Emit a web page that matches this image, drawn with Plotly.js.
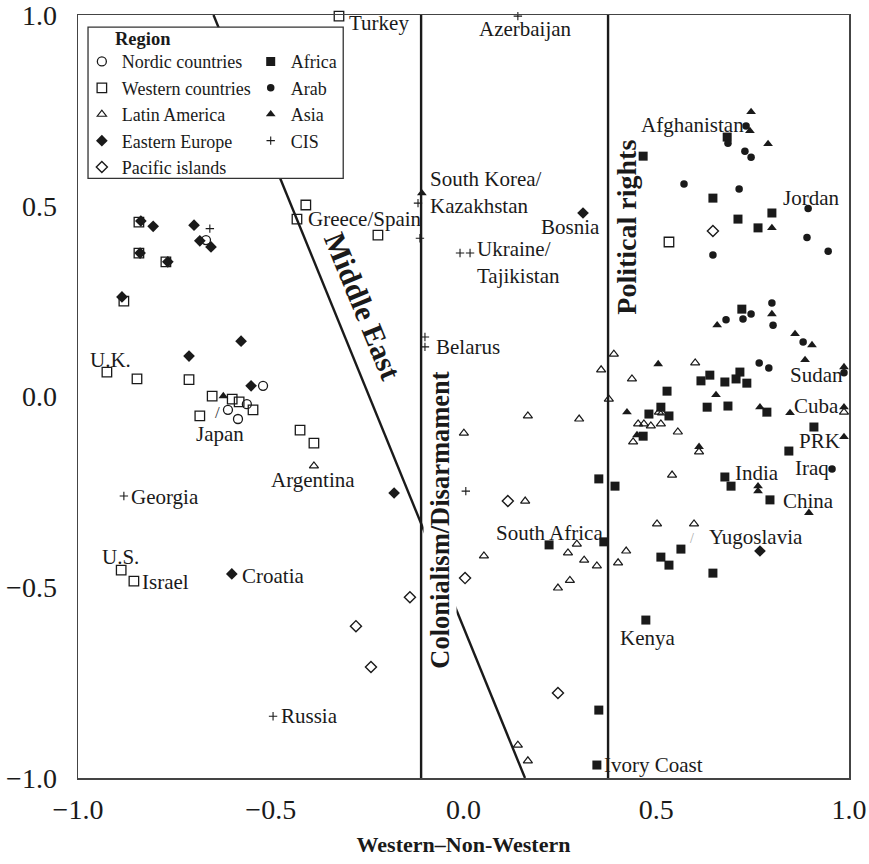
<!DOCTYPE html>
<html>
<head>
<meta charset="utf-8">
<script src="https://cdn.plot.ly/plotly-3.0.1.min.js"></script>
<style>html,body{margin:0;padding:0;background:#fff;}</style>
</head>
<body>
<div id="chart" style="width:869px;height:864px;"></div>
<script>
// ---- Data ----
const nordicX = [-0.668, -0.520, -0.562, -0.611, -0.585];
const nordicY = [0.410, 0.028, -0.020, -0.035, -0.059];

const westernX = [-0.323, -0.842, -0.842, -0.772, -0.881, -0.925, -0.847, -0.712, -0.652, -0.600, -0.582, -0.546, -0.684, -0.424, -0.388, -0.409, -0.432, -0.222, -0.888, -0.855, 0.533];
const westernY = [0.997, 0.457, 0.376, 0.353, 0.250, 0.064, 0.046, 0.044, 0.001, -0.007, -0.014, -0.035, -0.051, -0.088, -0.122, 0.502, 0.465, 0.423, -0.455, -0.484, 0.405];

const latinX = [-0.388, 0.390, 0.357, 0.437, 0.377, 0.167, 0.300, 0.001, 0.601, 0.507, 0.515, 0.453, 0.468, 0.486, 0.512, 0.556, 0.440, 0.611, 0.541, 0.987, 0.502, 0.598, 0.422, 0.401, 0.346, 0.160, 0.053, 0.294, 0.271, 0.313, 0.276, 0.245, 0.141, 0.167];
const latinY = [-0.182, 0.111, 0.070, 0.046, -0.007, -0.051, -0.059, -0.096, 0.088, -0.041, -0.043, -0.072, -0.072, -0.077, -0.072, -0.093, -0.119, -0.145, -0.206, -0.041, -0.334, -0.334, -0.405, -0.436, -0.444, -0.274, -0.418, -0.387, -0.410, -0.429, -0.482, -0.502, -0.914, -0.955];

const easternX = [-0.837, -0.805, -0.699, -0.684, -0.655, -0.839, -0.767, -0.886, -0.577, -0.712, -0.551, -0.180, -0.601, 0.310, 0.769];
const easternY = [0.460, 0.446, 0.449, 0.408, 0.392, 0.376, 0.353, 0.261, 0.145, 0.106, 0.028, -0.253, -0.465, 0.481, -0.405];

const pacificX = [-0.139, -0.279, -0.240, 0.004, 0.115, 0.245, 0.647];
const pacificY = [-0.526, -0.602, -0.709, -0.476, -0.274, -0.777, 0.434];

const africaX = [0.684, 0.466, 0.647, 0.800, 0.712, 0.764, 0.722, 0.481, 0.528, 0.616, 0.639, 0.678, 0.707, 0.717, 0.735, 0.632, 0.686, 0.787, 0.512, 0.533, 0.466, 0.909, 0.844, 0.678, 0.694, 0.795, 0.351, 0.393, 0.364, 0.564, 0.512, 0.533, 0.647, 0.222, 0.473, 0.351, 0.346];
const africaY = [0.680, 0.630, 0.520, 0.481, 0.465, 0.442, 0.229, -0.046, 0.014, 0.041, 0.056, 0.038, 0.046, 0.064, 0.035, -0.028, -0.025, -0.041, -0.028, -0.051, -0.104, -0.080, -0.143, -0.211, -0.235, -0.271, -0.216, -0.235, -0.381, -0.400, -0.421, -0.442, -0.463, -0.389, -0.586, -0.822, -0.966];

const arabX = [0.733, 0.686, 0.730, 0.746, 0.572, 0.715, 0.894, 0.891, 0.647, 0.946, 0.800, 0.746, 0.725, 0.681, 0.803, 0.881, 0.767, 0.792, 0.987, 0.956];
const arabY = [0.709, 0.664, 0.643, 0.627, 0.557, 0.544, 0.493, 0.417, 0.371, 0.381, 0.245, 0.216, 0.203, 0.201, 0.187, 0.143, 0.088, 0.075, 0.062, -0.190];

const asiaX = [0.746, 0.743, 0.790, 0.800, 0.658, 0.800, 0.860, 0.904, 0.886, 0.987, 0.505, 0.424, 0.655, 0.769, 0.847, 0.987, 0.450, 0.987, 0.611, 0.764, 0.764, 0.896, -0.623, -0.108];
const asiaY = [0.746, 0.696, 0.662, 0.442, 0.187, 0.216, 0.164, 0.135, 0.096, 0.077, 0.085, -0.041, 0.004, -0.028, -0.043, -0.028, -0.101, -0.106, -0.132, -0.235, -0.248, -0.305, 0.001, 0.533];

const cisX = [0.141, -0.658, -0.118, -0.113, -0.009, 0.017, -0.100, -0.100, -0.881, -0.494, 0.006];
const cisY = [0.997, 0.440, 0.507, 0.415, 0.376, 0.376, 0.156, 0.130, -0.261, -0.838, -0.248];

// Country labels
const labelText = ["Turkey", "Azerbaijan", "South Korea/<br>Kazakhstan", "Greece/Spain", "Bosnia", "Ukraine/<br>Tajikistan", "Belarus", "U.K.", "Japan", "Argentina", "Georgia", "U.S.", "Israel", "Croatia", "Russia", "Afghanistan", "Jordan", "Sudan", "Cuba", "PRK", "Iraq", "India", "China", "Yugoslavia", "South Africa", "Kenya", "Ivory Coast"];
const labelX = [-0.303, 0.160, -0.091, -0.409, 0.359, 0.030, -0.076, -0.916, -0.632, -0.390, -0.868, -0.891, -0.840, -0.580, -0.479, 0.455, 0.823, 0.842, 0.852, 0.865, 0.854, 0.698, 0.823, 0.631, 0.079, 0.400, 0.359];
const labelY = [0.979, 0.963, 0.535, 0.465, 0.444, 0.350, 0.130, 0.096, -0.098, -0.219, -0.263, -0.421, -0.486, -0.470, -0.838, 0.712, 0.520, 0.056, -0.025, -0.117, -0.188, -0.200, -0.274, -0.368, -0.358, -0.633, -0.966];
const labelAnchor = ["left", "center", "left", "left", "right", "left", "left", "center", "center", "center", "left", "center", "left", "left", "left", "left", "left", "left", "left", "left", "left", "left", "left", "left", "left", "left", "left"];

// Leader ticks ("/") next to labels
const leaderX = [-0.638, 0.593];
const leaderY = [-0.043, -0.371];

// Region lines (dimension boundaries)
const vLine1X = -0.110;
const vLine2X = 0.375;
const diagX = [-0.6485, 0.1595];
const diagY = [1.0, -1.0];

// ---- Styling ----
const FONT = "Liberation Serif, Times New Roman, serif";
const INK = "#1a1a1a";

function mk(name, x, y, symbol, size, legend, lw) {
  return {
    type: "scatter", mode: "markers", name: name, x: x, y: y,
    legend: legend, cliponaxis: false, hoverinfo: "skip",
    marker: { symbol: symbol, size: size, color: INK, line: { color: INK, width: lw } }
  };
}

const traces = [
  mk("Nordic countries", nordicX, nordicY, "circle-open", 9, "legend", 1.3),
  mk("Western countries", westernX, westernY, "square-open", 9.5, "legend", 1.3),
  mk("Latin America", latinX, latinY, "triangle-up-open", 8, "legend", 1.2),
  mk("Eastern Europe", easternX, easternY, "diamond", 9, "legend", 0),
  mk("Pacific islands", pacificX, pacificY, "diamond-open", 8.5, "legend", 1.4),
  mk("Africa", africaX, africaY, "square", 9, "legend2", 0),
  mk("Arab", arabX, arabY, "circle", 7.5, "legend2", 0),
  mk("Asia", asiaX, asiaY, "triangle-up", 8.5, "legend2", 0),
  mk("CIS", cisX, cisY, "cross-thin-open", 6, "legend2", 1.1)
];

const annotations = labelText.map((t, i) => ({
  x: labelX[i], y: labelY[i], xref: "x", yref: "y", text: t,
  showarrow: false, xanchor: labelAnchor[i], yanchor: "middle",
  align: "left",
  font: { family: FONT, size: 21, color: INK }
}));

leaderX.forEach((lx, i) => annotations.push({
  x: lx, y: leaderY[i], xref: "x", yref: "y", text: "/", showarrow: false,
  font: { family: FONT, size: i === 0 ? 17 : 14, color: i === 0 ? "#333" : "#aaa" }
}));

// rotated region names
annotations.push({
  x: -0.262, y: 0.238, xref: "x", yref: "y", text: "<b>Middle East</b>",
  textangle: 67.6, showarrow: false, font: { family: FONT, size: 30, color: INK }
});
annotations.push({
  x: -0.060, y: -0.322, xref: "x", yref: "y", text: "<b>Colonialism/Disarmament</b>",
  textangle: -90, showarrow: false, bgcolor: "#ffffff", borderpad: 1,
  font: { family: FONT, size: 26.5, color: INK }
});
annotations.push({
  x: 0.424, y: 0.445, xref: "x", yref: "y", text: "<b>Political rights</b>",
  textangle: -90, showarrow: false, font: { family: FONT, size: 28, color: INK }
});
// legend title
annotations.push({
  x: 0.0843, y: 0.9685, xref: "paper", yref: "paper", text: "<b>Region</b>",
  showarrow: false, xanchor: "center", yanchor: "middle",
  font: { family: FONT, size: 18.5, color: INK }
});

const shapes = [
  { type: "line", xref: "x", yref: "y", x0: vLine1X, x1: vLine1X, y0: -1, y1: 1, line: { color: INK, width: 2.4 }, layer: "above" },
  { type: "line", xref: "x", yref: "y", x0: vLine2X, x1: vLine2X, y0: -1, y1: 1, line: { color: INK, width: 2.4 }, layer: "above" },
  { type: "line", xref: "x", yref: "y", x0: diagX[0], x1: diagX[1], y0: diagY[0], y1: diagY[1], line: { color: INK, width: 2.4 }, layer: "above" },
  { type: "rect", xref: "paper", yref: "paper", x0: 0.013, x1: 0.344, y0: 0.786, y1: 0.984, fillcolor: "#ffffff", line: { color: "#333", width: 1.3 }, layer: "above" }
];

const legendCommon = {
  bgcolor: "rgba(0,0,0,0)", borderwidth: 0, orientation: "v",
  xanchor: "left", yanchor: "top", tracegroupgap: 0,
  font: { family: FONT, size: 18, color: INK }
};

const layout = {
  width: 869, height: 864,
  margin: { l: 78, r: 20, t: 15, b: 86, pad: 0 },
  paper_bgcolor: "#ffffff", plot_bgcolor: "#ffffff",
  showlegend: true,
  legend: Object.assign({}, legendCommon, { x: 0.005, y: 0.963 }),
  legend2: Object.assign({}, legendCommon, { x: 0.224, y: 0.963 }),
  xaxis: {
    range: [-1, 1], dtick: 0.5, tick0: 0, tickformat: ".1f",
    showgrid: false, zeroline: false, showline: true, mirror: true,
    linecolor: "#444", linewidth: 1.5, ticks: "", ticklabelstandoff: 6,
    ticklabeloverflow: "allow",
    tickfont: { family: FONT, size: 28, color: INK },
    title: { text: "<b>Western–Non-Western</b>", font: { family: FONT, size: 22, color: INK }, standoff: 12 }
  },
  yaxis: {
    range: [-1, 1], dtick: 0.5, tick0: 0, tickformat: ".1f",
    showgrid: false, zeroline: false, showline: true, mirror: true,
    linecolor: "#444", linewidth: 1.5, ticks: "", ticklabelstandoff: 14,
    ticklabeloverflow: "allow",
    tickfont: { family: FONT, size: 28, color: INK }
  },
  annotations: annotations,
  shapes: shapes
};

Plotly.newPlot("chart", traces, layout, { displayModeBar: false, staticPlot: true });
</script>
</body>
</html>
